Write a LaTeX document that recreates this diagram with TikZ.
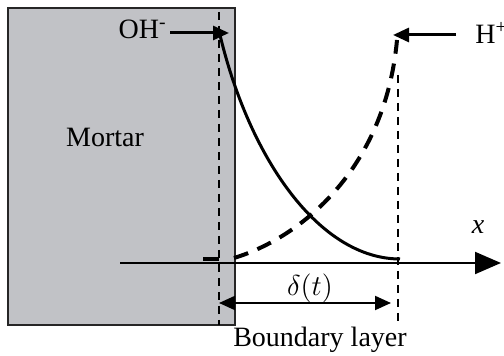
\documentclass[tikz,border=0pt]{standalone}
\usepackage{fontspec}
\setmainfont{Liberation Serif}
\usetikzlibrary{arrows.meta}
\definecolor{mortargray}{RGB}{193,194,198}
\begin{document}
\begin{tikzpicture}[x=0.5pt,y=-0.5pt,
  lbl/.style={inner sep=0pt, font=\fontsize{14}{16}\selectfont},
  guide/.style={line width=0.75pt, dash pattern=on 4pt off 3pt},
  flux/.style={line width=1.5pt, -{Triangle[length=8pt,width=7pt]}},
  conc/.style={line width=1.5pt},
  concdash/.style={line width=2pt, dash pattern=on 7.5pt off 5pt},
  axis/.style={line width=1pt, -{Triangle[length=13pt,width=11pt]}},
  dim/.style={line width=1pt, {Triangle[length=8pt,width=7pt]}-{Triangle[length=8pt,width=7pt]}}]
\useasboundingbox (0,0) rectangle (504,356);
% mortar block
\draw[fill=mortargray, draw=black!85, line width=1pt] (8,8) rectangle (235,325);
\node[lbl, anchor=base] (mortar) at (105,147) {Mortar};
% guides
\coordinate (gl1) at (219,12);
\coordinate (gl2) at (219,325);
\coordinate (gr1) at (398,75);
\coordinate (gr2) at (398,323);
\draw[guide] (gl1) -- (gl2);
\draw[guide] (gr1) -- (gr2);
% axis
\coordinate (ax0) at (120,263);
\coordinate (ax1) at (501,263);
\draw[axis] (ax0) -- (ax1);
\node[lbl, font=\fontsize{14}{16}\selectfont\itshape] (xl) at (478,227) {x};
\draw[line width=2pt] (203,259.5) -- (219,259.5);
% concentration curves
\coordinate (s0) at (220,35);
\coordinate (s1) at (400,259);
\draw[conc] (s0) .. controls (250,160) and (320,259) .. (s1);
\coordinate (d0) at (234,258);
\coordinate (d1) at (397,40);
\draw[concdash] (d0) .. controls (300,238) and (385,170) .. (d1);
% fluxes
\node[lbl, anchor=base east] (oh) at (167,39) {OH\textsuperscript{-}};
\coordinate (ohtip) at (229,33);
\draw[flux] (oh.east |- ohtip) ++(3,0) -- (ohtip);
\node[lbl, anchor=base west] (hp) at (475,44) {H\textsuperscript{+}};
\coordinate (hptip) at (393,35);
\coordinate (hpstart) at (456,35);
\draw[flux] (hpstart) -- (hptip);
% boundary layer
\coordinate (b0) at (219,303);
\coordinate (b1) at (391,303);
\draw[dim] (b0) -- (b1);
\node[lbl, font=\fontsize{15}{17}\selectfont] (delta) at (310,288) {$\delta(t)$};
\node[lbl, anchor=base] (bl) at (320,347) {Boundary layer};
\end{tikzpicture}
\end{document}
